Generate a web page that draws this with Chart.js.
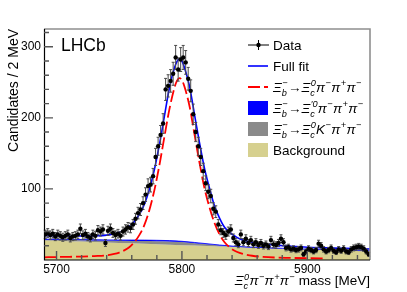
<!DOCTYPE html>
<html><head><meta charset="utf-8">
<script src="https://cdn.jsdelivr.net/npm/chart.js@4"></script>
<style>html,body{margin:0;padding:0;background:#fff;}canvas{display:block;}</style>
</head><body>
<canvas id="c" width="407" height="292"></canvas>
<script>
// ---- data ----
const massCenters = [5691,5693,5695,5697,5699,5701,5703,5705,5707,5709,5711,5713,5715,5717,5719,5721,5723,5725,5727,5729,5731,5733,5735,5737,5739,5741,5743,5745,5747,5749,5751,5753,5755,5757,5759,5761,5763,5765,5767,5769,5771,5773,5775,5777,5779,5781,5783,5785,5787,5789,5791,5793,5795,5797,5799,5801,5803,5805,5807,5809,5811,5813,5815,5817,5819,5821,5823,5825,5827,5829,5831,5833,5835,5837,5839,5841,5843,5845,5847,5849,5851,5853,5855,5857,5859,5861,5863,5865,5867,5869,5871,5873,5875,5877,5879,5881,5883,5885,5887,5889,5891,5893,5895,5897,5899,5901,5903,5905,5907,5909,5911,5913,5915,5917,5919,5921,5923,5925,5927,5929,5931,5933,5935,5937,5939,5941,5943,5945,5947,5949];
const candidates = [36,38,35,37,33,36,34,32,34,36,31,33,34,36,44,35,37,33,31,36,34,42,40,43,24,41,44,38,35,37,34,40,43,46,45,50,58,66,71,80,92,104,106,118,145,160,176,192,240,245,252,262,285,268,282,285,278,255,238,205,180,160,145,125,108,96,90,72,68,50,42,38,35,40,43,31,25,22,36,25,30,24,28,22,25,21,24,20,22,19,28,22,21,24,30,25,17,18,15,16,14,15,17,8,12,16,14,12,14,23,20,15,12,14,17,13,11,15,13,16,12,11,15,17,18,19,18,16,12,8];

const curveMass = [5690,5700,5710,5720,5730,5740,5746,5750,5754,5758,5762,5766,5770,5774,5778,5782,5786,5790,5794,5796,5798,5800,5802,5806,5810,5814,5818,5822,5826,5830,5834,5838,5842,5846,5850,5856,5864,5874,5886,5900,5915,5930,5950];
const fullFit = [34.5,34,33.8,33.8,34,35,37,39,42,47,54,64,78,99,127,162,202,242,270,279,283,280,271,245,205,165,129,101,76,59,46,39,34,30,27.5,25,23,21,19.5,18,17,16.3,15.5];
const signalXib = [3.8,4.2,4.5,4.8,5.5,6.5,8.5,10.5,13.5,18,25,35,49,70,98,133,173,212,242,252,256,253,244,217,177,137,101,74,52,36,25,18,13,10,8,6,4.5,3.5,3,2.5,2.2,null,null];

const compMass = [5690,5700,5710,5720,5730,5740,5750,5760,5770,5780,5790,5800,5810,5820,5830,5840,5850,5860,5870,5880,5890,5900,5910,5920,5930,5940,5950];
const bkgComb = [27.5,27,26.5,26,25.3,24.7,24,23.4,22.8,22.1,21.5,20.9,20.3,19.7,19.1,18.5,17.9,17.3,16.7,16.1,15.5,15,14.5,14,13.5,13,12.6];
const kaonComp = [1,1.2,1.5,1.8,2.2,2.6,3,3.5,4,4.4,4.6,4.3,3.4,2.3,1.2,0.4,0,0,0,0,0,0,0,0,0,0,0];
const xicPrimeComp = [0.9,0.9,0.9,1,1,1,1.1,1.2,1.2,1.2,1.2,1.1,1,0.9,0.8,0.7,0.6,0.5,0.4,0.4,0.3,0.3,0.3,0.3,0.3,0.3,0.3];

const xTicks = [5700,5800,5900];
const yTicks = [100,200,300];

// ---- styling ----
const FONT = '"Liberation Sans", Arial, Helvetica, sans-serif';
const KHAKI = 'rgb(214,208,143)';
const GREY = '#8a8a8a';
const BLUE = '#0000ff';
const RED = '#ff0000';

const pts = massCenters.map((m,i)=>({x:m,y:candidates[i]}));
const curve = arr => curveMass.map((m,i)=>({x:m,y:arr[i]}));
const bkgPts = compMass.map((m,i)=>({x:m,y:bkgComb[i]}));
const kaonTop = compMass.map((m,i)=>({x:m,y:bkgComb[i]+kaonComp[i]}));
const primeTop = compMass.map((m,i)=>({x:m,y:bkgComb[i]+kaonComp[i]+xicPrimeComp[i]}));

function rich(ctx, x, y, parts, size, align){
  const sm = size*0.68;
  const f = (s,it)=>(it?'italic ':'')+s+'px '+FONT;
  let w = 0; const items = [];
  for(const p of parts){
    ctx.font = f(size,p.it); const bw = ctx.measureText(p.t).width;
    let ew = 0;
    ctx.font = f(sm,p.it);
    if(p.sub) ew = Math.max(ew, ctx.measureText(p.sub).width);
    if(p.sup) ew = Math.max(ew, ctx.measureText(p.sup).width);
    if(ew) ew += 0.8;
    items.push({p,bw,ew}); w += bw+ew;
  }
  let cx = align==='right' ? x-w : x;
  ctx.textAlign='left'; ctx.textBaseline='alphabetic';
  for(const it of items){
    ctx.font = f(size,it.p.it); ctx.fillText(it.p.t,cx,y); cx += it.bw;
    ctx.font = f(sm,it.p.it);
    if(it.p.sub) ctx.fillText(it.p.sub,cx,y+size*0.3);
    if(it.p.sup) ctx.fillText(it.p.sup,cx+0.5,y-size*0.4);
    cx += it.ew;
  }
}

const errorBars = {
  id:'errorBars',
  beforeDatasetDraw(chart,args){
    if(args.index!==0) return;
    const ctx = chart.ctx, xs = chart.scales.x, ys = chart.scales.y;
    ctx.save();
    ctx.strokeStyle = '#4a4a4a'; ctx.lineWidth = 1;
    ctx.beginPath();
    massCenters.forEach((m,i)=>{
      const v = candidates[i], e = Math.sqrt(v);
      const px = xs.getPixelForValue(m);
      const y1 = ys.getPixelForValue(v+e), y2 = ys.getPixelForValue(Math.max(v-e,0));
      const yc = ys.getPixelForValue(v);
      ctx.moveTo(px,y1); ctx.lineTo(px,y2);
      ctx.moveTo(px-1.5,y1); ctx.lineTo(px+1.5,y1);
      ctx.moveTo(px-1.5,y2); ctx.lineTo(px+1.5,y2);
      ctx.moveTo(xs.getPixelForValue(m-1),yc); ctx.lineTo(xs.getPixelForValue(m+1),yc);
    });
    ctx.stroke();
    ctx.restore();
  }
};

const decoration = {
  id:'decoration',
  afterDraw(chart){
    const ctx = chart.ctx, a = chart.chartArea, xs = chart.scales.x, ys = chart.scales.y;
    ctx.save();
    // frame top/right
    ctx.strokeStyle = '#8f8f8f'; ctx.lineWidth = 1.6;
    ctx.beginPath(); ctx.moveTo(a.left,a.top); ctx.lineTo(a.right,a.top); ctx.lineTo(a.right,a.bottom); ctx.stroke();
    // axes
    ctx.strokeStyle = '#000'; ctx.lineWidth = 1.2;
    ctx.beginPath(); ctx.moveTo(a.left+0.5,a.top); ctx.lineTo(a.left+0.5,a.bottom); ctx.lineTo(a.right,a.bottom); ctx.stroke();
    // ticks
    ctx.strokeStyle = '#555'; ctx.lineWidth = 1.4;
    ctx.beginPath();
    for(let v=20; v<=320; v+=20){
      const py = ys.getPixelForValue(v);
      const len = (v%100===0)?9:5;
      ctx.moveTo(a.left,py); ctx.lineTo(a.left+len,py);
    }
    for(let m=5700; m<=5940; m+=20){
      const px = xs.getPixelForValue(m);
      const len = (m%100===0)?9:5;
      ctx.moveTo(px,a.bottom); ctx.lineTo(px,a.bottom-len);
    }
    ctx.stroke();
    ctx.fillStyle = '#000';
    // LHCb
    ctx.font = '17.5px '+FONT; ctx.textAlign='left'; ctx.textBaseline='alphabetic';
    ctx.fillText('LHCb',61,51);
    // y title
    ctx.save();
    ctx.translate(14,29); ctx.rotate(-Math.PI/2);
    ctx.font = '14px '+FONT; ctx.textAlign='right'; ctx.textBaseline='middle';
    ctx.fillText('Candidates / 2 MeV',0,0);
    ctx.restore();
    // x title
    rich(ctx,370,285,[
      {t:'Ξ',it:1,sub:'c',sup:'0'},{t:'π',it:1,sup:'−'},{t:'π',it:1,sup:'+'},{t:'π',it:1,sup:'−'},{t:' mass [MeV]'}
    ],13.5,'right');
    // legend
    const lx0 = 248, lx1 = 269, tx = 273, rows = [45,66,87,108,129,150], fs = 13.5;
    const base = r => r + fs*0.36;
    // Data
    ctx.strokeStyle='#000'; ctx.lineWidth=1;
    ctx.beginPath(); ctx.moveTo(lx0,rows[0]); ctx.lineTo(lx1,rows[0]); ctx.moveTo(258.5,rows[0]-5); ctx.lineTo(258.5,rows[0]+5); ctx.stroke();
    ctx.beginPath(); ctx.arc(258.5,rows[0],2.2,0,Math.PI*2); ctx.fill();
    ctx.font = fs+'px '+FONT; ctx.textAlign='left'; ctx.textBaseline='alphabetic';
    ctx.fillText('Data',tx,base(rows[0]));
    // Full fit
    ctx.strokeStyle=BLUE; ctx.lineWidth=1.6;
    ctx.beginPath(); ctx.moveTo(lx0,rows[1]); ctx.lineTo(lx1-1,rows[1]); ctx.stroke();
    ctx.fillText('Full fit',tx,base(rows[1]));
    // signal
    ctx.strokeStyle=RED; ctx.lineWidth=1.8; ctx.setLineDash([12,4]);
    ctx.beginPath(); ctx.moveTo(lx0,rows[2]); ctx.lineTo(lx1-1,rows[2]); ctx.stroke();
    ctx.setLineDash([]);
    rich(ctx,tx,base(rows[2]),[{t:'Ξ',it:1,sub:'b',sup:'−'},{t:'→'},{t:'Ξ',it:1,sub:'c',sup:'0'},{t:'π',it:1,sup:'−'},{t:'π',it:1,sup:'+'},{t:'π',it:1,sup:'−'}],fs);
    // boxes
    const boxes = [[BLUE,3],[GREY,4],[KHAKI,5]];
    for(const [c,r] of boxes){ ctx.fillStyle=c; ctx.fillRect(lx0,rows[r]-7,20,14); }
    ctx.fillStyle='#000';
    rich(ctx,tx,base(rows[3]),[{t:'Ξ',it:1,sub:'b',sup:'−'},{t:'→'},{t:'Ξ',it:1,sub:'c',sup:'′0'},{t:'π',it:1,sup:'−'},{t:'π',it:1,sup:'+'},{t:'π',it:1,sup:'−'}],fs);
    rich(ctx,tx,base(rows[4]),[{t:'Ξ',it:1,sub:'b',sup:'−'},{t:'→'},{t:'Ξ',it:1,sub:'c',sup:'0'},{t:'K',it:1,sup:'−'},{t:'π',it:1,sup:'+'},{t:'π',it:1,sup:'−'}],fs);
    ctx.font = fs+'px '+FONT;
    ctx.fillText('Background',tx,base(rows[5]));
    ctx.restore();
  }
};

new Chart(document.getElementById('c'),{
  type:'line',
  data:{datasets:[
    {type:'scatter',data:pts,pointRadius:2.2,pointBackgroundColor:'#000',pointBorderWidth:0,showLine:false},
    {data:curve(fullFit),borderColor:BLUE,borderWidth:1.6,pointRadius:0,fill:false,cubicInterpolationMode:'monotone'},
    {data:curve(signalXib),borderColor:RED,borderWidth:1.8,borderDash:[12,4],pointRadius:0,fill:false,cubicInterpolationMode:'monotone',spanGaps:false},
    {data:primeTop,borderColor:BLUE,borderWidth:0.8,backgroundColor:BLUE,fill:4,pointRadius:0,cubicInterpolationMode:'monotone'},
    {data:kaonTop,borderColor:'rgba(0,0,0,0)',borderWidth:0,backgroundColor:GREY,fill:5,pointRadius:0,cubicInterpolationMode:'monotone'},
    {data:bkgPts,borderColor:'rgba(0,0,0,0)',borderWidth:0,backgroundColor:KHAKI,fill:'origin',pointRadius:0}
  ]},
  options:{
    responsive:false, animation:false, devicePixelRatio:1,
    layout:{padding:{left:0,right:37,top:29,bottom:0}},
    plugins:{legend:{display:false},tooltip:{enabled:false}},
    scales:{
      x:{type:'linear',min:5690,max:5950,grid:{display:false,drawTicks:false,tickLength:0},border:{display:false},
        afterBuildTicks:s=>{s.ticks = xTicks.map(v=>({value:v}));},
        afterFit:s=>{s.height=32;},
        ticks:{color:'#000',font:{family:FONT,size:12},padding:2,maxRotation:0,autoSkip:false,callback:v=>String(v)}},
      y:{type:'linear',min:0,max:325,grid:{display:false,drawTicks:false,tickLength:0},border:{display:false},
        afterBuildTicks:s=>{s.ticks = yTicks.map(v=>({value:v}));},
        afterFit:s=>{s.width=44;},
        ticks:{color:'#000',font:{family:FONT,size:12},padding:3,autoSkip:false,callback:v=>String(v)}}
    }
  },
  plugins:[errorBars,decoration]
});
</script>
</body></html>
